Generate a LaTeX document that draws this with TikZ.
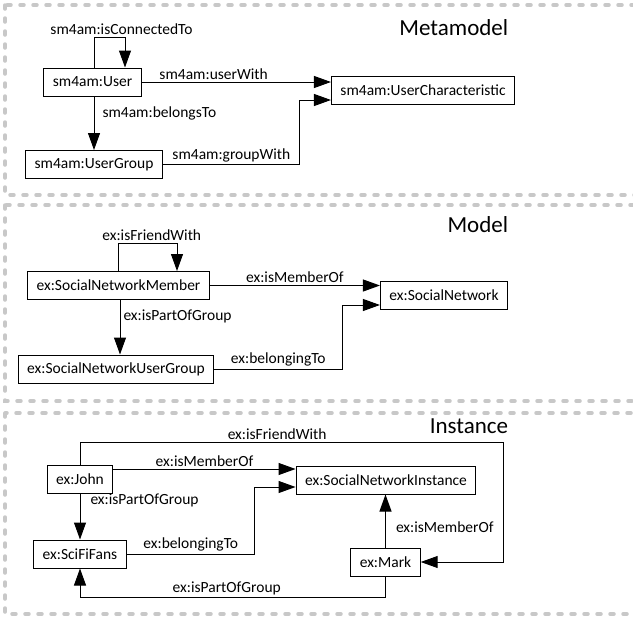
\documentclass[tikz,border=0pt]{standalone}
\usepackage{fontspec}
\setmainfont{Carlito}
\usetikzlibrary{arrows.meta}
\definecolor{frame}{RGB}{200,200,200}

\begin{document}
\begin{tikzpicture}[x=1pt, y=-1pt, >={Triangle[length=17pt,width=12pt]},
  font=\fontsize{15.5}{18}\selectfont, line width=1pt,
  box/.style={draw, minimum height=28pt, inner xsep=9pt, inner ysep=2pt},
  lbl/.style={inner sep=2pt},
  title/.style={anchor=base east, font=\fontsize{23}{26}\selectfont},
  panel/.style={draw=frame, line width=3.5pt, line cap=round, dash pattern=on 4pt off 9pt}]
  \useasboundingbox (0,0) rectangle (633,619);
  \clip (0,0) rectangle (633,619);
  \draw[panel] (5,5) rectangle (650,195);
  \draw[panel] (5,205) rectangle (650,401);
  \draw[panel] (5,413) rectangle (650,614);

  \node[title] (tmeta) at (512,35) {Metamodel};
  \node[box] (user) at (92.5,82) {sm4am:User};
  \node[box] (usergroup) at (94,164.5) {sm4am:UserGroup};
  \node[box] (userchar) at (423,90) {sm4am:UserCharacteristic};
  \draw[->] ([xshift=1.5]user.north) -- ++(0,-30) -| node[lbl, above, pos=0.25, xshift=12] {sm4am:isConnectedTo} ([xshift=32.5]user.north);
  \draw[->] (user.east) -- node[lbl, above, pos=0.38] {sm4am:userWith} (user.east -| userchar.west);
  \draw[->] ([xshift=1.5]user.south) -- node[lbl, right, pos=0.31, xshift=6] {sm4am:belongsTo} ([xshift=1.5]user.south |- usergroup.north);
  \draw[->] (usergroup.east) -- node[lbl, above] {sm4am:groupWith} ++(137,0) |- ([yshift=-10]userchar.west);

  \node[title] (tmodel) at (512,232) {Model};
  \node[box] (snm) at (118.5,285.5) {ex:SocialNetworkMember};
  \node[box] (snug) at (116,369) {ex:SocialNetworkUserGroup};
  \node[box] (sn) at (444,295) {ex:SocialNetwork};
  \draw[->] (snm.north) -- ++(0,-28) -| node[lbl, above, pos=0.25, xshift=4] {ex:isFriendWith} ([xshift=58.5]snm.north);
  \draw[->] (snm.east) -- node[lbl, above] {ex:isMemberOf} (snm.east -| sn.west);
  \draw[->] ([xshift=1.5]snm.south) -- node[lbl, right, pos=0.31, xshift=1] {ex:isPartOfGroup} ([xshift=1.5]snm.south |- snug.north);
  \draw[->] (snug.east) -- node[lbl, above] {ex:belongingTo} ++(128,0) |- ([yshift=-10]sn.west);

  \node[title] (tinst) at (512,433) {Instance};
  \node[box] (john) at (80,479) {ex:John};
  \node[box] (scifi) at (80,554) {ex:SciFiFans};
  \node[box] (sni) at (386,480) {ex:SocialNetworkInstance};
  \node[box] (mark) at (385.5,562) {ex:Mark};
  \draw[->] (john.north) -- ++(0,-22) -- node[lbl, above, pos=0.466] {ex:isFriendWith} ++(423,0) |- (mark.east);
  \draw[->] ([yshift=10]john.east) -- node[lbl, above] {ex:isMemberOf} ([yshift=10]john.east -| sni.west);
  \draw[->] (john.south) -- node[lbl, right, pos=0.15, xshift=8] {ex:isPartOfGroup} (john.south |- scifi.north);
  \draw[->] (scifi.east) -- node[lbl, above] {ex:belongingTo} ++(128,0) |- ([yshift=-7]sni.west);
  \draw[->] (mark.north) -- node[lbl, right, pos=0.38, xshift=8] {ex:isMemberOf} (mark.north |- sni.south);
  \draw[->] (mark.south) -- ++(0,21) -| node[lbl, above, pos=0.25, xshift=-6] {ex:isPartOfGroup} (scifi.south);
\end{tikzpicture}
\end{document}
